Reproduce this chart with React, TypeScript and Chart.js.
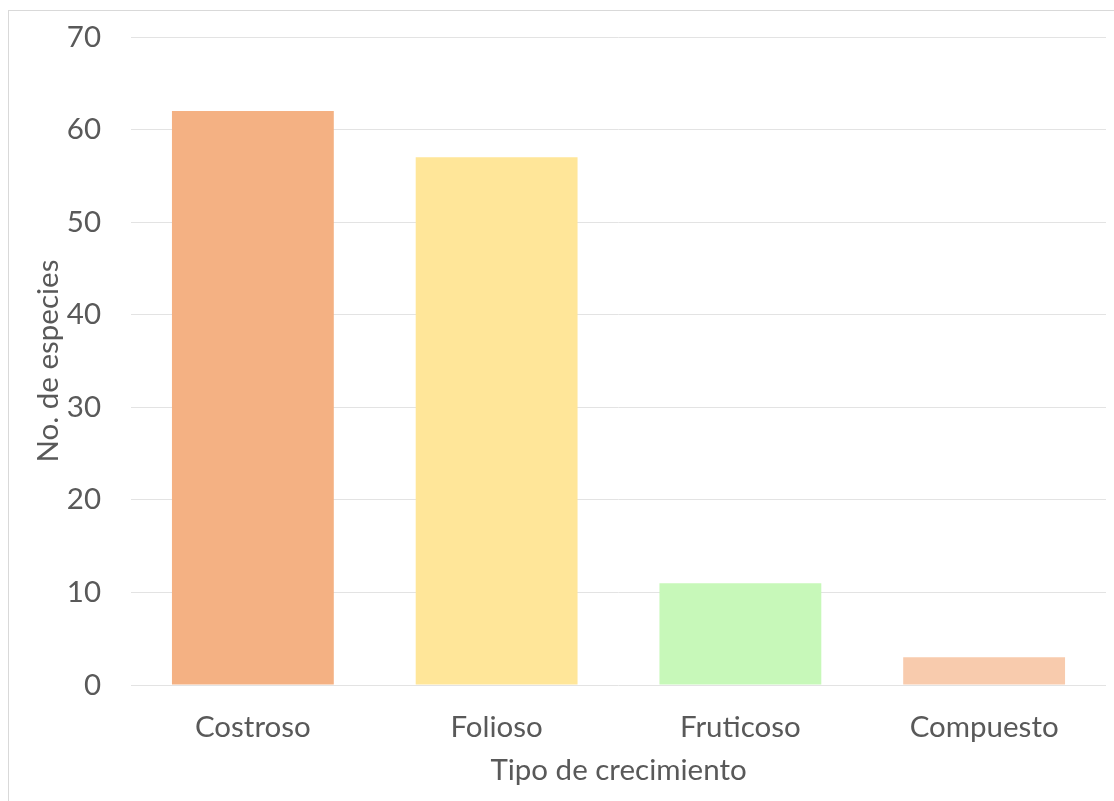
import React, { useEffect, useRef } from "react";
import { Chart, registerables } from "chart.js";

Chart.register(...registerables);

const categories = ["Costroso", "Folioso", "Fruticoso", "Compuesto"];
const especies = [62, 57, 11, 3];
const barColors = ["#F4B183", "#FFE699", "#C7F8B9", "#F8CBAD"];
const yTicks = [0, 10, 20, 30, 40, 50, 60, 70];
const yTitle = "No. de especies";
const xTitle = "Tipo de crecimiento";

const FONT = "Lato, 'Open Sans', sans-serif";
const TEXT = "#595959";
const FS = 29.5;

export default function App() {
  const ref = useRef<HTMLCanvasElement | null>(null);

  useEffect(() => {
    document.body.style.overflow = "hidden";
    const canvas = ref.current;
    if (!canvas) return;
    const chart = new Chart(canvas, {
      type: "bar",
      data: {
        labels: categories,
        datasets: [
          {
            data: especies,
            backgroundColor: barColors,
            borderWidth: 0,
            categoryPercentage: 1,
            barPercentage: 0.664,
          },
        ],
      },
      options: {
        animation: false,
        responsive: false,
        maintainAspectRatio: false,
        layout: { padding: { left: 0, top: 37, right: 8, bottom: 0 } },
        plugins: {
          legend: { display: false },
          tooltip: { enabled: false },
        },
        scales: {
          x: {
            grid: { display: false },
            border: { display: false },
            ticks: {
              color: TEXT,
              font: { family: FONT, size: FS },
              padding: 17,
              maxRotation: 0,
            },
            title: {
              display: true,
              text: xTitle,
              color: TEXT,
              font: { family: FONT, size: FS },
              padding: { top: 0, bottom: 13 },
            },
            afterFit: (s: any) => {
              s.height = 116;
              s.paddingLeft = 0;
              s.paddingRight = 0;
            },
          },
          y: {
            min: 0,
            max: 70,
            afterBuildTicks: (s: any) => {
              s.ticks = yTicks.map((v) => ({ value: v }));
            },
            grid: {
              color: "#E3E3E3",
              lineWidth: 1,
              drawTicks: false,
            },
            border: { display: false },
            ticks: {
              color: TEXT,
              font: { family: FONT, size: FS },
              padding: 30,
            },
            title: {
              display: true,
              text: yTitle,
              color: TEXT,
              font: { family: FONT, size: FS },
              padding: { top: 31, bottom: 0 },
            },
            afterFit: (s: any) => {
              s.width = 131;
              s.paddingTop = 0;
              s.paddingBottom = 0;
            },
          },
        },
      },
    });
    return () => chart.destroy();
  }, []);

  return (
    <>
      <div
        style={{
          position: "fixed",
          left: 8,
          top: 10,
          width: 1120,
          height: 800,
          border: "1px solid #D9D9D9",
          boxSizing: "border-box",
          background: "#fff",
        }}
      />
      <canvas
        ref={ref}
        width={1114}
        height={801}
        style={{ position: "fixed", left: 0, top: 0, width: 1114, height: 801 }}
      />
    </>
  );
}
